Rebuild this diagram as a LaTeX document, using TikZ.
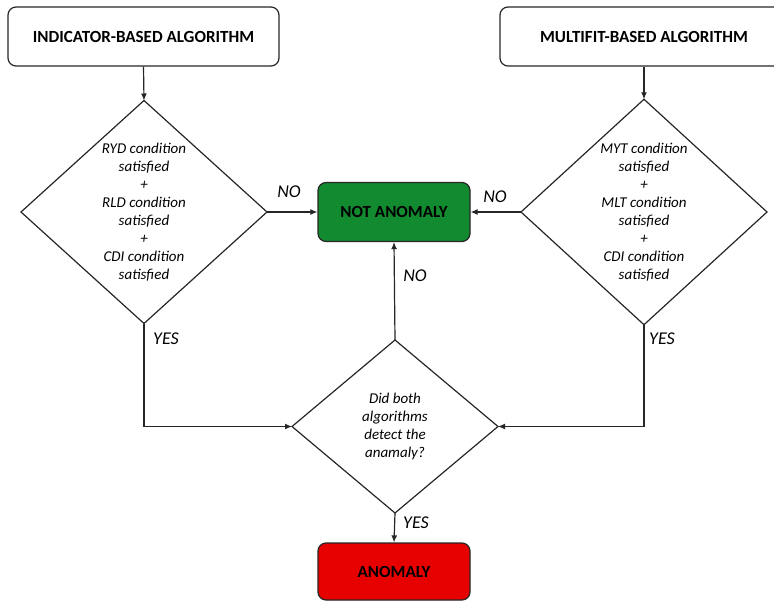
\documentclass[tikz,border=0pt]{standalone}
\usepackage{fontspec}
\setmainfont{Carlito}
\usetikzlibrary{shapes.geometric,arrows.meta}
\definecolor{okgreen}{RGB}{18,138,48}
\definecolor{badred}{RGB}{230,0,0}
\begin{document}
\begin{tikzpicture}[x=1pt,y=-1pt,
  arr/.style={draw=black!85, line width=1.2pt, -{Latex[length=7pt,width=6pt]}},
  topbox/.style={draw=black!85, line width=1.2pt, rounded corners=8pt, inner sep=0pt, minimum height=59pt,
    font=\fontsize{17}{20}\selectfont\bfseries},
  resbox/.style={draw=black!85, line width=1.2pt, rounded corners=8pt, inner sep=0pt, minimum width=152pt,
    font=\fontsize{17}{20}\selectfont\bfseries},
  cond/.style={diamond, draw=black!85, line width=1.2pt, inner sep=0pt, outer sep=0pt, align=center,
    font=\fontsize{15}{18}\selectfont\itshape},
  lbl/.style={font=\fontsize{18}{20}\selectfont\itshape, inner sep=0pt}
]
\useasboundingbox (0,0) rectangle (774,602);
\clip (0,0) rectangle (774,602);

\node[topbox, minimum width=271pt] (lbox) at (143.5,36.5) {INDICATOR-BASED ALGORITHM};
\node[topbox, minimum width=288pt] (rbox) at (644,36.5) {MULTIFIT-BASED ALGORITHM};

\node[cond, minimum width=246pt, minimum height=223pt] (ld) at (144,212)
  {RYD condition\\satisfied\\+\\RLD condition\\satisfied\\+\\CDI condition\\satisfied};
\node[cond, minimum width=246pt, minimum height=223pt] (rd) at (644,212)
  {MYT condition\\satisfied\\+\\MLT condition\\satisfied\\+\\CDI condition\\satisfied};

\node[resbox, fill=okgreen, minimum height=59pt] (na) at (394,212) {NOT ANOMALY};

\node[cond, minimum width=206pt, minimum height=173pt] (bd) at (395,426.5)
  {Did both\\algorithms\\detect the\\anamaly?};

\node[resbox, fill=badred, minimum height=57pt] (an) at (394,571.5) {ANOMALY};

\draw[arr] (lbox.south) -- (ld.north);
\draw[arr] (rbox.south) -- (rd.north);
\draw[arr] (ld.east) -- (na.west);
\draw[arr] (rd.west) -- (na.east);
\draw[arr] (ld.south) |- (bd.west);
\draw[arr] (rd.south) |- (bd.east);
\draw[arr] (bd.north) -- (na.south);
\draw[arr] (bd.south) -- (an.north);

\node[lbl] (no1) at (289,192) {NO};
\node[lbl] (no2) at (495,197) {NO};
\node[lbl] (no3) at (415,276) {NO};
\node[lbl] (yes1) at (166,339) {YES};
\node[lbl] (yes2) at (662,339) {YES};
\node[lbl] (yes3) at (416,523) {YES};
\end{tikzpicture}
\end{document}
